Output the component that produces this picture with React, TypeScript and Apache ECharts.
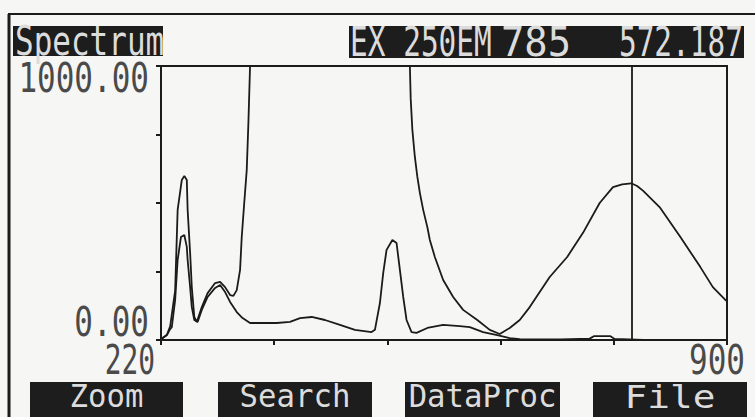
import React, { useEffect, useRef } from "react";
import * as echarts from "echarts";

// Emission scan, trace 1 (tall, runs off scale between ~327 and ~519 nm)
const trace1Wl = [220, 222, 227, 231, 237, 240, 245, 248, 251, 252, 255, 257, 260, 263, 269, 276, 285, 291, 297, 303, 307, 311, 315, 317, 320, 323, 325, 327, 329, 400, 517, 519, 520, 522, 525, 528, 531, 535, 540, 543, 549, 559, 571, 583, 600, 615, 627, 639, 651, 663, 687, 708, 727, 747, 763, 774, 785, 792, 799, 819, 844, 868, 883, 898, 900];
const trace1Val = [0, 7, 18, 50, 180, 475, 584, 599, 584, 475, 317, 193, 84, 66, 120, 171, 208, 212, 193, 164, 161, 182, 256, 376, 500, 620, 792, 1000, 1300, 3000, 1300, 1000, 880, 767, 668, 595, 537, 475, 412, 365, 303, 219, 157, 110, 73, 37, 22, 44, 73, 120, 230, 303, 391, 500, 558, 568, 572, 562, 545, 485, 376, 266, 193, 146, 142];

// Emission scan, trace 2 (lower)
const trace2Wl = [220, 222, 227, 231, 233, 237, 240, 244, 248, 251, 252, 255, 257, 260, 264, 269, 276, 285, 291, 297, 303, 311, 318, 327, 359, 375, 387, 401, 417, 435, 453, 473, 477, 483, 487, 491, 498, 503, 507, 511, 515, 521, 527, 540, 559, 579, 591, 607, 624, 639, 651, 700, 735, 740, 760, 765, 800, 900];
const trace2Val = [0, 7, 18, 40, 47, 146, 292, 376, 383, 340, 292, 193, 120, 73, 66, 110, 157, 190, 201, 175, 139, 102, 80, 62, 62, 66, 80, 84, 73, 55, 37, 29, 37, 135, 245, 329, 365, 354, 256, 157, 73, 29, 26, 44, 55, 51, 47, 29, 18, 7, 3, 2, 5, 14, 14, 4, 0, 0];

const exWl = 250;
const cursorWl = 785;
const cursorVal = 572.187;
const xMin = 220;
const xMax = 900;
const yMin = 0;
const yMax = 1000;
const yTickLabels = ["0.00", "1000.00"];
const xTickLabels = ["220", "900"];
const menuLabels = ["Zoom", "Search", "DataProc", "File"];
const titleLabel = "Spectrum";

const FONT = '"DejaVu Sans Mono", "Liberation Mono", monospace';
const INK = "#1b1b1b";
const TXT = "#4a4a4a";
const INV = "#dcdcdc";

function txt(text: string, x: number, y: number, align: string, fill: string, sx = 1, sy = 1.3, size = 31) {
  return {
    type: "text",
    x,
    y,
    scaleX: sx,
    scaleY: sy,
    z: 10,
    style: {
      text,
      fill,
      fontFamily: FONT,
      fontSize: size,
      align,
      verticalAlign: "middle",
    },
  };
}

export default function App() {
  const ref = useRef<HTMLDivElement>(null);
  useEffect(() => {
    document.body.style.margin = "0";
    const chart = echarts.init(ref.current!, null, { renderer: "svg" });
    const s1 = trace1Wl.map((w, i) => [w, trace1Val[i]]);
    const s2 = trace2Wl.map((w, i) => [w, trace2Val[i]]);
    const menuBoxes = [
      [30, 153],
      [218, 154],
      [405, 155],
      [593, 154],
    ];
    const graphic: any[] = [
      { type: "line", shape: { x1: 8, y1: 14, x2: 755, y2: 14 }, style: { stroke: INK, lineWidth: 2 } },
      { type: "line", shape: { x1: 9, y1: 14, x2: 9, y2: 417 }, style: { stroke: INK, lineWidth: 3 } },
      { type: "rect", shape: { x: 13, y: 26, width: 150, height: 30 }, style: { fill: "#1d1d1d" } },
      txt(titleLabel, 15, 41, "left", INV),
      { type: "rect", shape: { x: 349, y: 26, width: 395, height: 32 }, style: { fill: "#1d1d1d" } },
      txt(`EX ${exWl}EM`, 350, 42, "left", INV, 0.95),
      txt(`${cursorWl}`, 536, 42, "center", INV, 1.25),
      txt(`${cursorVal.toFixed(3)}`, 743, 42, "right", INV, 0.95),
      txt(yTickLabels[1], 149, 78, "right", TXT),
      txt(yTickLabels[0], 149, 322, "right", TXT),
      txt(xTickLabels[0], 155, 360, "right", TXT, 0.9),
      txt(xTickLabels[1], 745, 360, "right", TXT),
    ];
    menuLabels.forEach((m, i) => {
      const [bx, bw] = menuBoxes[i];
      graphic.push({ type: "rect", shape: { x: bx, y: 382, width: bw, height: 35 }, style: { fill: "#1d1d1d" } });
      graphic.push(txt(m, bx + bw / 2, 396, "center", INV, m === "File" ? 1.45 : 1.18, 1.25, 26));
    });

    chart.setOption({
      animation: false,
      backgroundColor: "#f6f6f4",
      grid: {
        left: 161,
        right: 28,
        top: 66,
        bottom: 77,
        show: true,
        borderColor: INK,
        borderWidth: 2,
        backgroundColor: "transparent",
      },
      xAxis: [
        {
          type: "value",
          min: xMin,
          max: xMax,
          axisLine: { show: true, lineStyle: { color: INK, width: 2 } },
          axisTick: { show: false },
          axisLabel: { show: false },
          splitLine: { show: false },
        },
        {
          type: "value",
          min: 0,
          max: xMax - xMin,
          interval: (xMax - xMin) / 5,
          position: "bottom",
          axisLine: { show: false },
          axisTick: { show: true, length: 5, lineStyle: { color: INK, width: 2 } },
          axisLabel: { show: false },
          splitLine: { show: false },
        },
      ],
      yAxis: {
        type: "value",
        min: yMin,
        max: yMax,
        interval: 250,
        axisLine: { show: true, lineStyle: { color: INK, width: 2 } },
        axisTick: { show: true, length: 5, lineStyle: { color: INK, width: 2 } },
        axisLabel: { show: false },
        splitLine: { show: false },
      },
      graphic,
      series: [
        {
          type: "line",
          data: s1,
          showSymbol: false,
          clip: true,
          lineStyle: { color: INK, width: 1.8 },
          markLine: {
            silent: true,
            symbol: ["none", "none"],
            label: { show: false },
            lineStyle: { color: INK, width: 1.8, type: "solid" },
            data: [{ xAxis: cursorWl }],
          },
        },
        {
          type: "line",
          data: s2,
          showSymbol: false,
          clip: true,
          lineStyle: { color: INK, width: 1.8 },
        },
      ],
    });
    return () => chart.dispose();
  }, []);
  return <div ref={ref} style={{ width: 755, height: 417 }} />;
}
